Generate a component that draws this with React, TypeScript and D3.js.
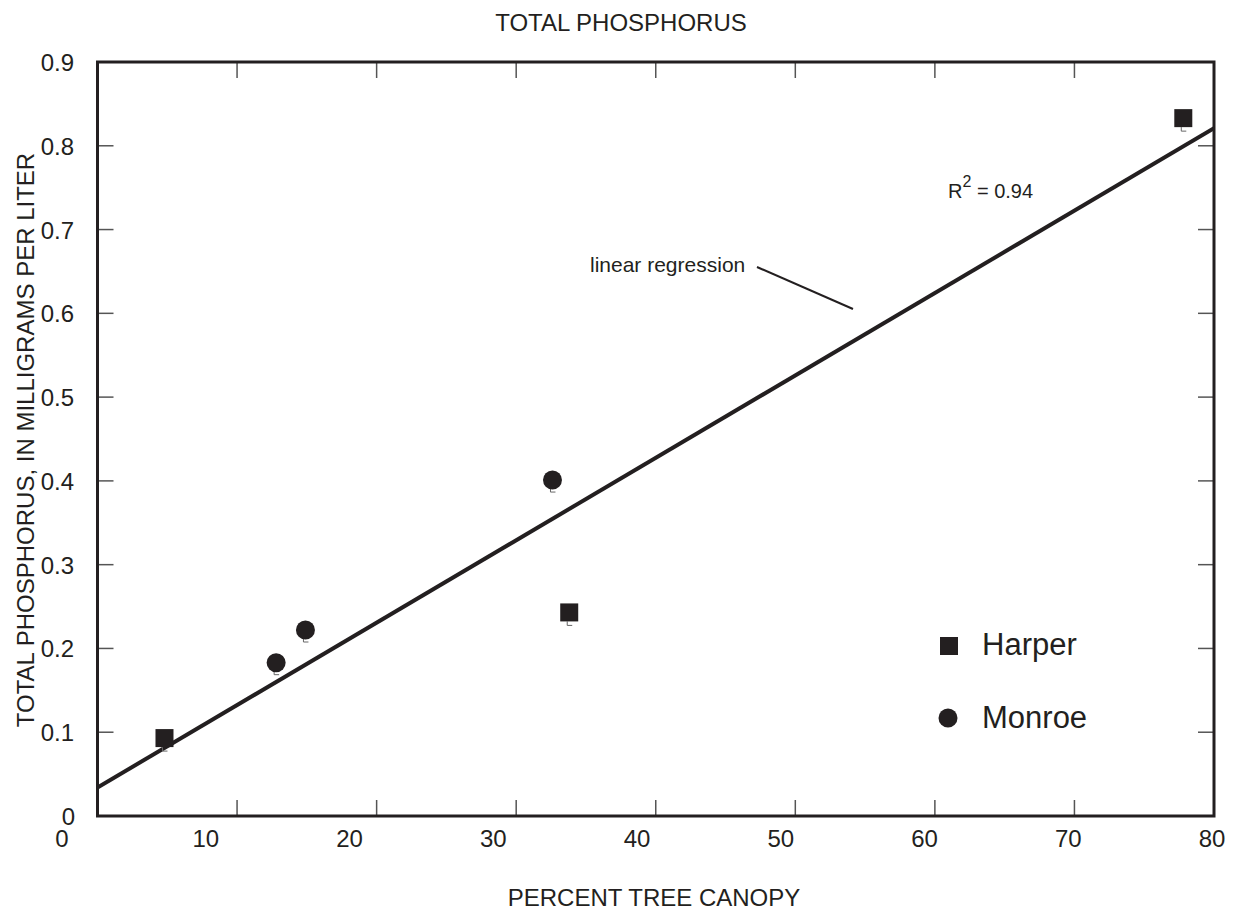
import * as d3 from 'd3';

// Harper and Monroe sample sites: percent tree canopy vs total phosphorus
const harperCanopy = [4.8, 33.8, 77.8];
const harperPhosphorus = [0.093, 0.243, 0.833];
const monroeCanopy = [12.8, 14.9, 32.6];
const monroePhosphorus = [0.183, 0.222, 0.401];

// fitted line end points (canopy, phosphorus)
const regressionCanopy = [0, 80];
const regressionPhosphorus = [0.034, 0.821];

const xTicks = [0, 10, 20, 30, 40, 50, 60, 70, 80];
const yTicks = [0, 0.1, 0.2, 0.3, 0.4, 0.5, 0.6, 0.7, 0.8, 0.9];

const INK = '#231f20';
const FONT = '"Liberation Sans", Arial, Helvetica, sans-serif';

export default function App() {
  const width = 1238;
  const height = 912;
  const left = 97.5;
  const right = 1214;
  const top = 62;
  const bottom = 816;

  const x = d3.scaleLinear().domain([0, 80]).range([left, right]);
  const y = d3.scaleLinear().domain([0, 0.9]).range([bottom, top]);
  // tick labels in the original sit on a slightly different spacing than the ticks
  const xLabel = d3.scaleLinear().domain([0, 80]).range([62, 1212]);

  const line = d3
    .line<number>()
    .x((d) => x(regressionCanopy[d]))
    .y((d) => y(regressionPhosphorus[d]));

  const tickLen = 16;
  const sq = 18;
  const harper = harperCanopy.map((c, i) => ({ c, p: harperPhosphorus[i] }));
  const monroe = monroeCanopy.map((c, i) => ({ c, p: monroePhosphorus[i] }));

  const tail = (cx: number, cy: number, off: number) =>
    `M${cx - 2},${cy + off} L${cx - 2},${cy + off + 4} L${cx + 3},${cy + off + 4}`;

  return (
    <svg
      width={width}
      height={height}
      style={{ position: 'absolute', left: 0, top: 0, background: '#fff' }}
      fontFamily={FONT}
    >
      <defs>
        <clipPath id="plot">
          <rect x={left} y={top} width={right - left} height={bottom - top} />
        </clipPath>
      </defs>

      <text x={621} y={31} textAnchor="middle" fontSize={24} fill={INK}>
        TOTAL PHOSPHORUS
      </text>

      {/* ticks on all four sides, pointing inward */}
      <g stroke="#555" strokeWidth={1.5}>
        {xTicks.slice(1, -1).map((t) => (
          <g key={`xt${t}`}>
            <line x1={x(t)} x2={x(t)} y1={bottom} y2={bottom - tickLen} />
            <line x1={x(t)} x2={x(t)} y1={top} y2={top + tickLen} />
          </g>
        ))}
        {yTicks.slice(1, -1).map((t) => (
          <g key={`yt${t}`}>
            <line x1={left} x2={left + tickLen} y1={y(t)} y2={y(t)} />
            <line x1={right} x2={right - tickLen} y1={y(t)} y2={y(t)} />
          </g>
        ))}
      </g>

      <g fontSize={24} fill={INK}>
        {xTicks.map((t) => (
          <text key={`xl${t}`} x={xLabel(t)} y={847} textAnchor="middle">
            {t}
          </text>
        ))}
        {yTicks.map((t) => (
          <text key={`yl${t}`} x={t === 0 ? 75 : 74} y={y(t) + 9} textAnchor="end">
            {t === 0 ? '0' : t.toFixed(1)}
          </text>
        ))}
      </g>

      <path
        d={line([0, 1]) ?? ''}
        stroke={INK}
        strokeWidth={4}
        fill="none"
        clipPath="url(#plot)"
      />

      <rect
        x={left}
        y={top}
        width={right - left}
        height={bottom - top}
        fill="none"
        stroke={INK}
        strokeWidth={3}
      />

      {harper.map((d, i) => (
        <g key={`h${i}`}>
          <path d={tail(x(d.c), y(d.p), sq / 2)} stroke="#666" strokeWidth={1} fill="none" />
          <rect x={x(d.c) - sq / 2} y={y(d.p) - sq / 2} width={sq} height={sq} fill={INK} />
        </g>
      ))}
      {monroe.map((d, i) => (
        <g key={`m${i}`}>
          <path d={tail(x(d.c), y(d.p), 8)} stroke="#666" strokeWidth={1} fill="none" />
          <circle cx={x(d.c)} cy={y(d.p)} r={9.5} fill={INK} />
        </g>
      ))}

      <text x={590} y={272} fontSize={21} fill={INK}>
        linear regression
      </text>
      <line x1={757} y1={267} x2={853} y2={309} stroke={INK} strokeWidth={2} />

      <text x={948} y={198} fontSize={20} fill={INK}>
        R
        <tspan dy={-11} fontSize={16}>
          2
        </tspan>
        <tspan dy={11}> = 0.94</tspan>
      </text>

      <rect x={940} y={637} width={18} height={18} fill={INK} />
      <text x={982} y={655} fontSize={31} fill={INK}>
        Harper
      </text>
      <circle cx={948} cy={718} r={9.5} fill={INK} />
      <text x={982} y={728} fontSize={31} fill={INK}>
        Monroe
      </text>

      <text x={654} y={906} textAnchor="middle" fontSize={24} fill={INK}>
        PERCENT TREE CANOPY
      </text>
      <text
        transform="translate(34,440) rotate(-90)"
        textAnchor="middle"
        fontSize={24}
        fill={INK}
      >
        TOTAL PHOSPHORUS, IN MILLIGRAMS PER LITER
      </text>
    </svg>
  );
}
